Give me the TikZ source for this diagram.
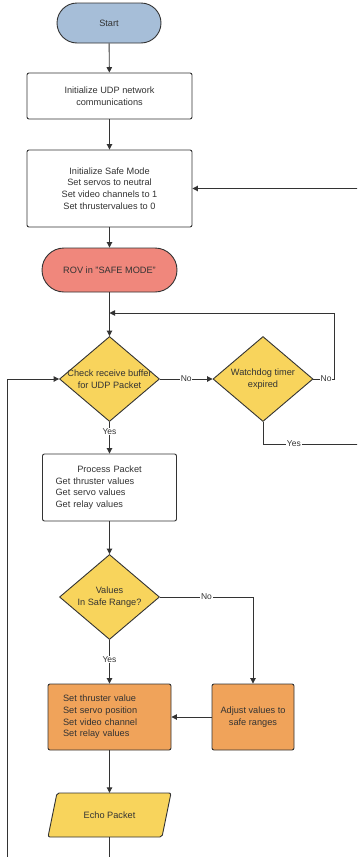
\documentclass[tikz,border=0pt]{standalone}
\usepackage{fontspec}
\setmainfont{Liberation Sans}
\usetikzlibrary{shapes.geometric,arrows.meta}
\definecolor{cblue}{HTML}{A6BED8}
\definecolor{cred}{HTML}{F0877C}
\definecolor{cyel}{HTML}{F8D45C}
\definecolor{corg}{HTML}{F0A35A}
\definecolor{cline}{HTML}{333333}
\begin{document}
\begin{tikzpicture}[x=1pt,y=-1pt,
  font=\fontsize{9.2}{11.7}\selectfont, text=cline,
  box/.style={draw=cline, line width=0.9pt, rounded corners=2pt, inner sep=0pt, align=center},
  term/.style={box, rounded corners=20pt},
  dia/.style={diamond, draw=cline, fill=cyel, line width=0.9pt, inner sep=0pt, minimum width=100pt, minimum height=85pt},
  ln/.style={draw=cline, line width=0.9pt},
  arr/.style={ln, -{Triangle[length=5.5pt,width=5.5pt]}},
  lab/.style={fill=white, inner sep=0.8pt, font=\fontsize{8.5}{10}\selectfont}]
\useasboundingbox (0,0) rectangle (357,857);
\clip (0,0) rectangle (357,857);
\fill[white] (0,0) rectangle (357,857);

% nodes
\node[term, fill=cblue, minimum width=104pt, minimum height=40pt] (start) at (109,23) {Start};
\node[box, fill=white, minimum width=165pt, minimum height=46pt] (init) at (109.5,96) {Initialize UDP network\\communications};
\node[box, fill=white, minimum width=165pt, minimum height=77pt] (safe) at (109.5,188.5) {Initialize Safe Mode\\Set servos to neutral\\Set video channels to 1\\Set thrustervalues to 0};
\node[term, rounded corners=22pt, fill=cred, minimum width=135pt, minimum height=44pt] (rov) at (109.5,270) {ROV in "SAFE MODE"};
\node[dia] (chk) at (109.5,379) {};
\node[align=center] at (chk) {Check receive buffer\\for UDP Packet};
\node[dia] (wd) at (263,379) {};
\node[align=center] at (wd) {Watchdog timer\\expired};
\node[box, fill=white, minimum width=134pt, minimum height=67pt, text width=108pt, align=left] (proc) at (109.5,487.5) {\makebox[108pt][c]{Process Packet}\\Get thruster values\\Get servo values\\Get relay values};
\node[dia] (rng) at (109.5,597) {};
\node[align=center] at (rng) {Values\\In Safe Range?};
\node[box, fill=corg, minimum width=123pt, minimum height=66pt, text width=93pt, align=left] (setv) at (109.5,717) {Set thruster value\\Set servo position\\Set video channel\\Set relay values};
\node[box, fill=corg, minimum width=82pt, minimum height=66pt] (adj) at (253,717) {Adjust values to\\safe ranges};
\draw[ln, fill=cyel, rounded corners=2pt] (57,793) -- (171,793) -- (162,837) -- (48,837) -- cycle;
\node[inner sep=0pt, minimum width=123pt, minimum height=44pt] (echo) at (109.5,815) {Echo Packet};

% helper coordinates
\coordinate (j) at (109.5,313);
\coordinate (rr) at (366,444);
\coordinate (lb1) at (109.5,880);
\coordinate (lb2) at (7,880);

% connectors
\draw[arr] (start) -- (init);
\draw[arr] (init) -- (safe);
\draw[arr] (safe) -- (rov);
\draw[arr] (rov) -- (chk);
\draw[arr] (chk.east) -- node[lab]{No} (wd.west);
\draw[arr] (wd.east) -- node[lab, pos=0.6]{No} ++(21,0) |- (j);
\draw[arr] (wd.south) |- node[lab, pos=0.65]{Yes} (rr) |- (safe.east);
\draw[arr] (chk.south) -- node[lab, pos=0.3]{Yes} (proc.north);
\draw[arr] (proc) -- (rng);
\draw[arr] (rng.south) -- node[lab, pos=0.45]{Yes} (setv.north);
\draw[arr] (rng.east) -- node[lab]{No} (rng.east -| adj.north) -- (adj.north);
\draw[arr] (adj.west) -- (setv.east);
\draw[arr] (setv) -- (echo);
\draw[arr] (echo.south) -- (lb1) -- (lb2) |- (chk.west);
\end{tikzpicture}
\end{document}
